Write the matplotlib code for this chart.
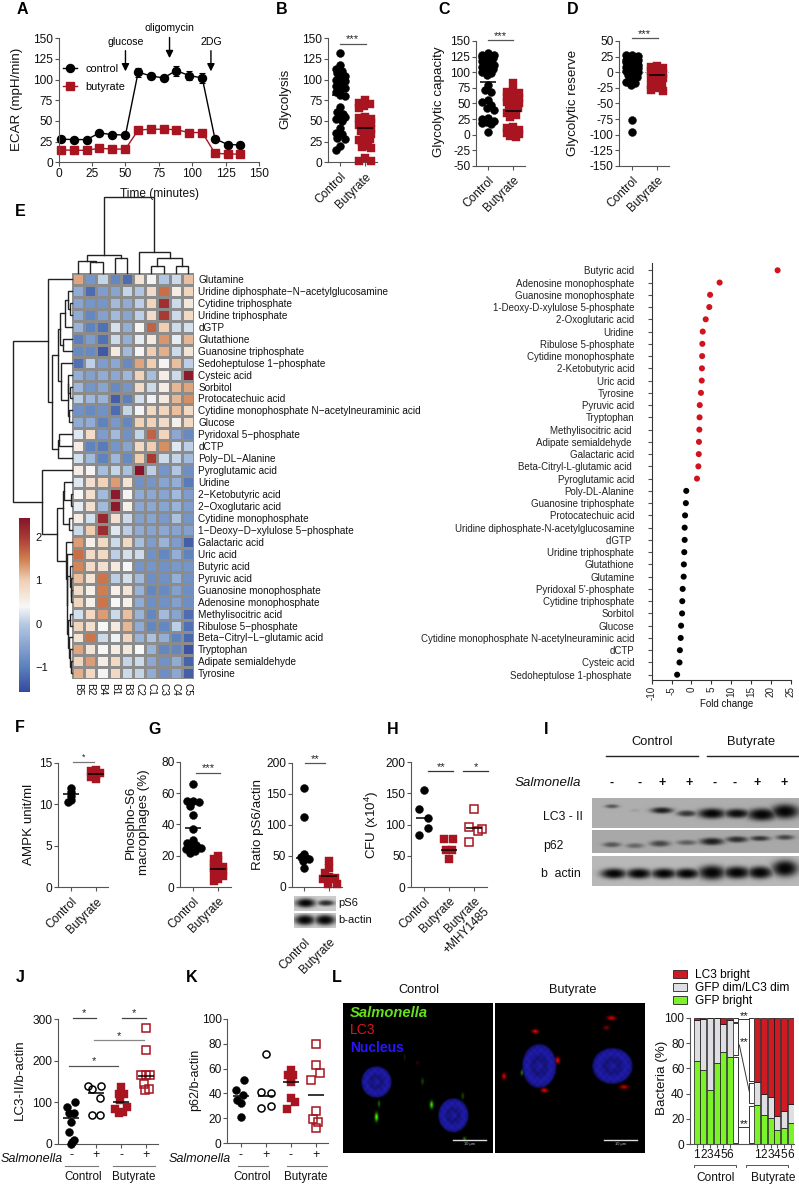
import numpy as np
import matplotlib
matplotlib.use('Agg')
import matplotlib.pyplot as plt
from matplotlib.colors import LinearSegmentedColormap, Normalize
from matplotlib.lines import Line2D
from matplotlib.patches import Patch

plt.rcParams['font.family'] = ['Liberation Sans', 'DejaVu Sans']
plt.rcParams['axes.unicode_minus'] = False
plt.rcParams['mathtext.fontset'] = 'custom'
plt.rcParams['mathtext.rm'] = 'Liberation Sans'
plt.rcParams['mathtext.default'] = 'rm'
W, H = 799, 1185
fig = plt.figure(figsize=(W/100, H/100), dpi=100)
RED = '#a8141f'
AXC = '#555555'
TS = 8.6
LS = 9.6

# ---------- data ----------
time_min = [2, 11.5, 21, 30.5, 40, 50, 59.5, 69, 78.5, 88, 97.5, 107.5, 117, 126.5, 136]
ecar_ctrl = [28, 27.5, 27.5, 35.5, 33.5, 33, 109, 104.5, 102, 111, 105, 102, 28.5, 21.5, 21]
ecar_ctrl_err = [2, 2, 2, 2, 2, 2, 5.5, 3, 2, 6, 6, 5.5, 2, 2, 2]
ecar_but = [15, 14.5, 14.5, 17, 16, 16, 39, 40, 40, 39.5, 36, 36, 11, 10, 10]
ecar_but_err = [2, 2, 2, 2, 2, 2, 2, 2, 2, 2, 2, 2, 2, 2, 2]

glyc_ctrl = [132, 118, 113, 110, 108, 105, 103, 100, 98, 95, 92, 90, 88, 85, 81, 80, 67, 61, 59, 57, 55, 52, 50, 41, 36, 34, 29, 28, 20, 15]
glyc_but = [75, 72, 70, 68, 66, 55, 54, 52, 50, 48, 47, 45, 42, 40, 38, 36, 34, 30, 28, 27, 26, 25, 20, 18, 17, 5, 2, 2]
cap_ctrl = [130, 128, 127, 126, 125, 124, 122, 120, 118, 116, 115, 112, 110, 108, 105, 103, 100, 98, 95, 80, 72, 68, 56, 52, 48, 42, 40, 27, 25, 22, 20, 18, 17, 5]
cap_but = [83, 70, 68, 66, 65, 62, 60, 58, 56, 55, 52, 50, 48, 45, 42, 40, 35, 32, 28, 12, 10, 8, 6, 4, 2, 1, 0, -2, -3]
res_ctrl = [28, 27, 26, 25, 24, 22, 20, 19, 18, 17, 16, 15, 14, 13, 12, 11, 10, 9, 8, 6, 5, 4, 3, 2, 0, -2, -5, -8, -12, -15, -18, -20, -77, -96]
res_but = [10, 8, 6, 5, 4, 2, 1, 0, -1, -2, -3, -5, -6, -8, -10, -12, -15, -17, -18, -20, -22, -25, -28, -30]

heat_rows = ['Glutamine', 'Uridine diphosphate−N−acetylglucosamine', 'Cytidine triphosphate', 'Uridine triphosphate', 'dGTP',
             'Glutathione', 'Guanosine triphosphate', 'Sedoheptulose 1−phosphate', 'Cysteic acid', 'Sorbitol',
             'Protocatechuic acid', 'Cytidine monophosphate N−acetylneuraminic acid', 'Glucose', 'Pyridoxal 5−phosphate', 'dCTP',
             'Poly−DL−Alanine', 'Pyroglutamic acid', 'Uridine', '2−Ketobutyric acid', '2−Oxoglutaric acid',
             'Cytidine monophosphate', '1−Deoxy−D−xylulose 5−phosphate', 'Galactaric acid', 'Uric acid', 'Butyric acid',
             'Pyruvic acid', 'Guanosine monophosphate', 'Adenosine monophosphate', 'Methylisocitric acid', 'Ribulose 5−phosphate',
             'Beta−Citryl−L−glutamic acid', 'Tryptophan', 'Adipate semialdehyde', 'Tyrosine']
heat_cols = ['B5', 'B2', 'B4', 'B1', 'B3', 'C2', 'C1', 'C3', 'C4', 'C5']
heat_vals = [
 [1.25, -0.7, 0.1, -0.9, -1.2, 0.7, 0.45, -0.05, 0.15, 1.1],
 [-0.4, -1.2, -0.6, -0.5, 0.1, -0.05, 0.8, 1.6, 0.55, 0.9],
 [-0.5, -0.7, -0.7, -0.2, -0.4, 0.05, 0.9, 2.1, 0.15, 0.65],
 [-0.4, -0.9, -0.55, -0.2, -0.5, 0.05, 0.8, 2.0, 0.15, 0.85],
 [-0.3, -0.95, -1.15, 0.2, -0.35, 0.45, 1.7, 1.0, 0.15, 0.2],
 [-1.0, -0.6, -1.15, 0.15, -0.35, 0.3, 0.6, 1.35, 0.3, 1.15],
 [-0.85, -0.85, -1.4, 0.6, -0.2, 0.45, 1.0, 1.2, 0.15, 0.7],
 [-1.15, 0.05, -0.6, -0.45, -0.85, 1.25, 1.0, 0.45, 1.1, 0.05],
 [-0.35, -0.55, -0.4, -0.45, -0.25, 0.95, -0.15, 0.55, 0.15, 2.35],
 [-0.25, -0.7, -0.5, -0.85, -0.7, 0.8, 0.15, 0.55, 1.15, 1.25],
 [0.05, -0.25, -0.3, -1.35, -1.0, 0.2, 0.35, 0.6, 1.15, 1.4],
 [-0.75, -0.85, -0.75, -1.2, 0.1, 0.45, 0.85, 0.9, 1.1, 0.85],
 [-0.4, -0.4, -0.95, -0.65, -0.9, 0.95, 0.95, 0.8, 0.5, 0.85],
 [0.25, 0.8, -0.6, -0.2, -0.75, 0.1, 1.7, 0.9, -0.45, -0.85],
 [0.55, -0.95, -1.05, -0.7, -0.5, 0.85, 1.0, 1.4, 0.25, 0.05],
 [0.2, -0.2, -0.95, -0.25, -0.85, 1.0, 2.0, 0.15, 0.1, -0.2],
 [0.55, 0.45, -0.15, 0.1, -0.1, 2.45, 0.05, -0.7, -0.05, -0.8],
 [0.25, 0.75, 0.95, 1.3, 0.7, -0.75, -0.7, -0.5, -0.35, -1.05],
 [0.4, 0.75, -0.2, 2.35, 0.45, -0.4, -0.45, -0.5, -0.2, -0.6],
 [0.3, 0.75, -0.2, 2.35, 0.5, -0.45, -0.45, -0.5, -0.3, -0.6],
 [0.55, 0.2, 2.2, 0.75, 0.15, -0.55, -0.5, -0.65, -0.1, -0.7],
 [0.15, 1.0, 2.15, 0.25, 0.05, -0.4, -0.5, -0.45, -0.5, -0.55],
 [1.3, 0.5, 0.85, 0.15, 0.85, -0.15, -0.6, -0.3, -0.6, -1.35],
 [1.6, 0.8, 0.85, 0.05, 0.2, 0.15, -0.75, -0.9, -0.35, -0.95],
 [1.45, 0.8, 0.75, 0.6, 0.4, -0.7, -0.7, -0.75, -0.65, -0.7],
 [1.1, 0.7, 1.55, 0.05, 0.2, -0.2, -0.8, -0.75, -0.35, -0.75],
 [0.8, 0.5, 1.5, 0.5, 0.7, -0.3, -0.9, -0.85, -0.55, -0.8],
 [0.9, 0.5, 1.55, 0.4, 0.5, -0.4, -0.8, -0.75, -0.55, -0.8],
 [0.2, 0.85, 1.3, 0.15, 1.1, -0.3, -0.9, -0.2, -0.5, -1.2],
 [0.9, 0.75, 0.4, 0.6, 1.15, -0.4, -0.9, -0.9, 0.05, -1.15],
 [0.7, 1.55, 0.15, 0.35, 0.9, -0.3, -0.1, -0.35, -0.95, -1.25],
 [1.25, 0.7, 0.4, 0.55, 0.65, 0.4, -0.3, -0.9, -0.9, -1.45],
 [0.9, 1.3, 0.55, 0.85, 0.1, 0.15, -0.45, -0.75, -0.4, -1.3],
 [1.2, 0.85, 0.45, 0.85, 0.15, 0.1, -0.4, -0.8, -0.45, -1.35],
]
# dendrograms: (child, child, height)
col_tree = (((0, (1, 2, 11), 12), (3, 4, 15), 18), (5, ((6, 7, 7), (8, 9, 7.5), 15), 21), 76)
row_tree_top = (0, (((((1, (2, 3, 2), 3.7), 4, 7), (5, 6, 8.7), 12),
                     (7, ((8, (9, 10, 2.5), 3.7), (11, 12, 3), 4.5), 11.5), 14.5),
                    ((13, 14, 13.5), 15, 14.5), 19.7), 23.7)
row_tree_bot = (16, (((17, (18, 19, 1), 8), (20, 21, 3), 9.5),
                     (22, (23, ((24, (25, (26, 27, 0.8), 1.5), 2.5), ((28, 29, 2.2), (30, (31, (32, 33, 1), 2), 3), 4), 5), 5.5), 6.5), 15), 30)
row_tree = (row_tree_top, row_tree_bot, 59.3)

fold_names = ['Butyric acid', 'Adenosine monophosphate', 'Guanosine monophosphate', '1-Deoxy-D-xylulose 5-phosphate', '2-Oxoglutaric acid',
              'Uridine', 'Ribulose 5-phosphate', 'Cytidine monophosphate', '2-Ketobutyric acid', 'Uric acid', 'Tyrosine', 'Pyruvic acid',
              'Tryptophan', 'Methylisocitric acid ', 'Adipate semialdehyde ', 'Galactaric acid', 'Beta-Citryl-L-glutamic acid ',
              'Pyroglutamic acid', 'Poly-DL-Alanine', 'Guanosine triphosphate', 'Protocatechuic acid',
              'Uridine diphosphate-N-acetylglucosamine', 'dGTP ', 'Uridine triphosphate', 'Glutathione', 'Glutamine',
              "Pyridoxal 5'-phosphate", 'Cytidine triphosphate', 'Sorbitol', 'Glucose',
              'Cytidine monophosphate N-acetylneuraminic acid', 'dCTP', 'Cysteic acid', 'Sedoheptulose 1-phosphate ']
fold_vals = [21.7, 7.1, 4.7, 4.5, 3.6, 2.85, 2.75, 2.7, 2.65, 2.6, 2.4, 2.1, 2.05, 2.0, 1.9, 1.85, 1.75, 1.4,
             -1.3, -1.4, -1.6, -1.7, -1.7, -1.8, -1.9, -1.95, -2.2, -2.3, -2.35, -2.6, -2.7, -2.9, -3.0, -3.6]

ampk_ctrl = [12.0, 11.5, 11.0, 10.5, 10.3]
ampk_but = [14.1, 14.0, 13.8, 13.5, 13.3, 13.0]
ps6_ctrl = [66, 55, 55, 54, 52, 46, 37, 30, 28, 27, 26, 25, 24, 23, 22]
ps6_but = [20, 18, 17, 15, 14, 13, 12, 11, 10, 9, 8, 7, 5, 4]
ratio_ctrl = [160, 113, 52, 48, 46, 44, 42, 30]
ratio_but = [42, 30, 22, 15, 14, 12, 12, 5, 4]

cfu_ctrl = [155, 125, 110, 95, 83]
cfu_ctrl_dx = [0, -0.17, 0.16, 0.16, -0.17]
cfu_but = [77, 77, 60, 60, 45]
cfu_but_dx = [-0.17, 0.16, -0.1, 0.12, 0]
cfu_mhy = [125, 97, 93, 90, 72]
cfu_mhy_dx = [0, -0.17, 0.32, 0.16, -0.17]

lc3_ctrl_m = [100, 89, 75, 73, 53, 29, 9, 3, 0]
lc3_ctrl_m_dx = [0.16, -0.16, 0.12, -0.1, 0, -0.1, 0.12, 0.03, 0]
lc3_ctrl_p = [139, 139, 131, 109, 68, 68]
lc3_ctrl_p_dx = [-0.33, 0.19, -0.17, 0.16, -0.17, 0.16]
lc3_but_m = [136, 120, 120, 105, 84, 89, 73, 77]
lc3_but_m_dx = [0, -0.1, 0.12, -0.04, -0.24, 0.22, -0.08, 0.09]
lc3_but_p = [278, 225, 166, 166, 166, 143, 130, 131]
lc3_but_p_dx = [0, 0, -0.2, 0, 0.16, -0.1, -0.04, 0.12]

p62_ctrl_m = [50.5, 43, 39, 35, 32, 21]
p62_ctrl_m_dx = [0.15, -0.18, 0.11, -0.13, 0, 0]
p62_ctrl_p = [71.6, 41, 40, 28, 30]
p62_ctrl_p_dx = [0, -0.17, 0.2, -0.17, 0.2]
p62_but_m = [59, 55, 55, 52, 49, 36, 33, 27.5]
p62_but_m_dx = [0, -0.1, 0.1, 0, 0, 0, 0.17, -0.16]
p62_but_p = [80, 62.5, 56.4, 50.8, 26, 19.5, 17, 12.5]
p62_but_p_dx = [0, 0, 0.16, -0.17, 0, -0.12, 0.08, 0]

stack_green = [66, 59, 43, 64, 73, 69, 31, 23, 21, 11, 13, 17]
stack_grey = [32, 40, 57, 36, 22, 29, 18, 17, 16, 11, 13, 15]
stack_red = [2, 1, 0, 0, 5, 2, 51, 60, 63, 78, 74, 68]
stack_x = [1, 2, 3, 4, 5, 6, 10.1, 11.1, 12.1, 13.1, 14.1, 15.1]
stack_ticklabels = ['1', '2', '3', '4', '5', '6'] * 2

# ---------- helpers ----------
def axpx(x0, y0, x1, y1):
    a = fig.add_axes([x0/W, 1-y1/H, (x1-x0)/W, (y1-y0)/H])
    a.patch.set_alpha(0)
    a.rect_px = (x0, y0, x1, y1)
    return a

def style(a):
    for s in ('top', 'right'):
        a.spines[s].set_visible(False)
    for s in ('left', 'bottom'):
        a.spines[s].set_color(AXC)
        a.spines[s].set_linewidth(0.8)
    a.tick_params(length=2.6, width=0.8, color=AXC, labelsize=TS, pad=1.5, labelcolor='#111111')

def ftext(x, y, s, **k):
    k.setdefault('ha', 'center'); k.setdefault('va', 'center'); k.setdefault('fontsize', TS); k.setdefault('color', '#111111')
    return fig.text(x/W, 1-y/H, s, **k)

def fline(xs, ys, c='#333333', lw=0.8):
    fig.add_artist(Line2D([x/W for x in xs], [1-y/H for y in ys], color=c, lw=lw))

def ylab(a, s, x, y, fs=LS):
    x0, y0, x1, y1 = a.rect_px
    a.set_ylabel(s, fontsize=fs, color='#111111', va='center', ha='center')
    a.yaxis.set_label_coords((x-x0)/(x1-x0), (y1-y)/(y1-y0))

def xlab(a, s, x, y, fs=TS):
    x0, y0, x1, y1 = a.rect_px
    a.set_xlabel(s, fontsize=fs, color='#111111', va='center', ha='center')
    a.xaxis.set_label_coords((x-x0)/(x1-x0), (y1-y)/(y1-y0))

def catax(sx, rx, ty, by, t0, ylim, yticks, labels=None, n=2):
    a = axpx(sx, ty, rx, by)
    style(a)
    a.set_xlim((sx-t0)/25, (rx-t0)/25)
    a.set_ylim(*ylim)
    a.set_yticks(yticks)
    a.set_xticks(range(n))
    if labels:
        a.set_xticklabels(labels, rotation=45, ha='right', rotation_mode='anchor')
    a.tick_params(axis='x', pad=3.5)
    return a

def swarm(a, vals, cx, marker, color, ms=5.7, gap=0.7, limit=6.0):
    # spread equal values sideways, within +-limit pixels of the category centre
    px = a.rect_px
    yscale = (px[3]-px[1])/(a.get_ylim()[1]-a.get_ylim()[0])
    d = ms*100/72*gap
    placed = []
    xs = []
    n_c = int(limit/1.5)
    cand = [0.0]
    for i in range(1, n_c+1):
        cand += [-1.5*i, 1.5*i]
    for v in vals:
        best, bestd = 0.0, -1
        for off in cand:
            dist = min([np.hypot(off-p, (v-q)*yscale) for p, q in placed] or [1e9])
            if dist >= d:
                best = off
                break
            if dist > bestd:
                best, bestd = off, dist
        placed.append((best, v))
        xs.append(cx+best/25)
    a.plot(xs, vals, ls='none', marker=marker, ms=ms, mfc=color, mec=color, mew=0.3, clip_on=False, zorder=3)

def pts(a, vals, dx, cx, marker, color, ms=5.7, open_=False):
    a.plot([cx+d for d in dx], vals, ls='none', marker=marker, ms=ms-(0.6 if open_ else 0),
           mfc='none' if open_ else color, mec=color, mew=1.1 if open_ else 0.3, clip_on=False, zorder=3)

def mean(a, cx, v, hw=0.32, c='black'):
    a.plot([cx-hw, cx+hw], [v, v], color=c, lw=1.1, zorder=5, clip_on=False, solid_capstyle='butt')

def sig(a, x0, x1, y, s, c='#555555', fs=8, dy=3.2):
    a.plot([x0, x1], [y, y], color=c, lw=0.9, clip_on=False, zorder=4)
    a.annotate(s, ((x0+x1)/2, y), xytext=(0, dy), textcoords='offset points', ha='center', va='center', fontsize=fs, color='#222222', annotation_clip=False)

for s, x, y in [('A', 22, 10), ('B', 282, 10), ('C', 444, 10), ('D', 573, 10), ('E', 20, 212), ('F', 20, 728), ('G', 155, 729),
                ('H', 393, 729), ('I', 546, 729), ('J', 20, 978), ('K', 192, 978), ('L', 337, 978)]:
    ftext(x, y, s, fontsize=11.5, fontweight='bold', color='black')

# ---------- A ----------
a = axpx(58.7, 38.3, 259, 162.3)
style(a)
a.set_xlim(0, 150); a.set_ylim(0, 150)
a.set_xticks(range(0, 151, 25)); a.set_yticks(range(0, 151, 25))
a.errorbar(time_min, ecar_ctrl, yerr=ecar_ctrl_err, color='black', lw=1, marker='o', ms=5.8, capsize=2, capthick=0.8, label='control', clip_on=False)
a.errorbar(time_min, ecar_but, yerr=ecar_but_err, color=RED, lw=1, marker='s', ms=5.6, capsize=2, capthick=0.8, label='butyrate', clip_on=False)
ylab(a, 'ECAR (mpH/min)', 16.7, 99)
xlab(a, 'Time (minutes)', 159, 194)
for s, x, y0, y1, ty in [('glucose', 50, 135, 110, 145), ('oligomycin', 83, 151, 126, 163), ('2DG', 114, 135, 110, 146)]:
    a.annotate('', (x, y1), (x, y0), arrowprops=dict(arrowstyle='-|>', color='black', lw=1, shrinkA=0, shrinkB=0, mutation_scale=11), annotation_clip=False)
    a.text(x, ty, s, ha='center', va='center', fontsize=7.6, clip_on=False)
h = [Line2D([], [], color='black', lw=1, marker='o', ms=5.8), Line2D([], [], color=RED, lw=1, marker='s', ms=5.6)]
a.legend(h, ['control', 'butyrate'], loc='upper left', bbox_to_anchor=(63/W, 1-64/H), bbox_transform=fig.transFigure,
         frameon=False, fontsize=7.8, handlelength=1.3, handletextpad=0.75, labelspacing=0.75, borderpad=0, borderaxespad=0)

# ---------- B C D ----------
lab2 = ['Control', 'Butyrate']
a = catax(328, 377, 38.3, 162.3, 340, (0, 150), range(0, 151, 25), lab2)
swarm(a, glyc_ctrl, 0, 'o', 'black', limit=4.5); swarm(a, glyc_but, 1, 's', RED, limit=6)
mean(a, 0, 81); mean(a, 1, 42)
sig(a, 0, 1.02, 143.5, '***')
ylab(a, 'Glycolysis', 285, 99)

a = catax(476, 525, 41, 166, 488, (-50, 150), range(-50, 151, 25), lab2)
swarm(a, cap_ctrl, 0, 'o', 'black', limit=6); swarm(a, cap_but, 1, 's', RED, limit=6)
mean(a, 0, 85); mean(a, 1, 38)
sig(a, 0, 1, 151, '***')
ylab(a, 'Glycolytic capacity', 439, 102)

a = catax(619, 669, 41, 166, 632, (-150, 50), range(-150, 51, 25), lab2)
a.axhline(0, color='#777777', lw=0.7, ls=':', zorder=1)
swarm(a, res_ctrl, 0, 'o', 'black', limit=6); swarm(a, res_but, 1, 's', RED, limit=6)
mean(a, 0, 5); mean(a, 1, -4)
sig(a, 0, 1.02, 54.7, '***')
ylab(a, 'Glycolytic reserve', 573, 103)

# ---------- E heatmap ----------
cmap = LinearSegmentedColormap.from_list('hm', [
    (0.00, '#344a9e'), (0.142, '#5b80bd'), (0.39, '#b4c9e3'), (0.49, '#f7f7f7'), (0.64, '#f0d0b4'),
    (0.77, '#cf7b4c'), (0.89, '#a83a34'), (1.00, '#85142a')])
norm = Normalize(-1.57, 2.44)
TOP, ROWH, LEFT, COLW = 273, 11.95, 72, 12.2
BOT = TOP + ROWH*len(heat_rows); RIGHT = LEFT + COLW*len(heat_cols)
a = axpx(LEFT, TOP, RIGHT, BOT)
m = a.pcolormesh(np.array(heat_vals), cmap=cmap, norm=norm, edgecolors='#8c8c8c', linewidth=0.9)
a.set_ylim(len(heat_rows), 0); a.set_xlim(0, len(heat_cols))
for s in a.spines.values():
    s.set_visible(False)
a.yaxis.tick_right()
a.set_yticks(np.arange(len(heat_rows))+.5); a.set_yticklabels(heat_rows, fontsize=7.2)
a.set_xticks(np.arange(len(heat_cols))+.5); a.set_xticklabels(heat_cols, fontsize=7.25, rotation=270)
a.tick_params(length=0, pad=3, labelcolor='#111111')

def draw_tree(a, t, vertical):
    if not isinstance(t, tuple):
        return t+.5, 0
    p1, h1 = draw_tree(a, t[0], vertical)
    p2, h2 = draw_tree(a, t[1], vertical)
    hh = t[2]
    if vertical:
        a.plot([p1, p1, p2, p2], [h1, hh, hh, h2], color='#222222', lw=1, clip_on=False, solid_joinstyle='miter')
    else:
        a.plot([h1, hh, hh, h2], [p1, p1, p2, p2], color='#222222', lw=1, clip_on=False, solid_joinstyle='miter')
    return (p1+p2)/2, hh

d = axpx(LEFT, TOP-76, RIGHT, TOP); d.axis('off')
d.set_xlim(0, 10); d.set_ylim(0, 76)
draw_tree(d, col_tree, True)
d = axpx(LEFT-60, TOP, LEFT, BOT); d.axis('off')
d.set_ylim(34, 0); d.set_xlim(60, 0)
draw_tree(d, row_tree, False)

cax = axpx(19, 518, 30, 692)
cb = fig.colorbar(m, cax=cax)
cb.outline.set_visible(False)
cb.set_ticks([-1, 0, 1, 2]); cb.set_ticklabels(['−1', '0', '1', '2'])
cb.ax.tick_params(length=0, pad=4, labelsize=8, labelcolor='#111111')

# fold change
n = len(fold_names)
a = axpx(651.7, 263, 790.7, 680)
a.spines['top'].set_visible(False); a.spines['right'].set_visible(False)
for s in ('left', 'bottom'):
    a.spines[s].set_color('#333333'); a.spines[s].set_linewidth(0.8)
a.set_xlim(-10, 25)
pxrow = 12.25
a.set_ylim(33+(680-674.7)/pxrow, -(270.3-263)/pxrow)
ypos = np.arange(n)
cols = ['#d0141e' if v > 0 else 'black' for v in fold_vals]
a.scatter(fold_vals, ypos, c=cols, s=19, zorder=3, clip_on=False, linewidths=0)
a.set_yticks(ypos); a.set_yticklabels(fold_names, fontsize=7.0)
a.set_xticks(range(-10, 26, 5)); a.set_xticklabels(range(-10, 26, 5), rotation=90, fontsize=7.1)
a.tick_params(axis='y', length=3, width=0.8, color='#555555', pad=9.5, labelcolor='#222222')
a.tick_params(axis='x', length=3, width=0.8, color='#333333', pad=1.5, labelcolor='#222222')
xlab(a, 'Fold change', 727, 704, fs=7)

# ---------- F G H ----------
a = catax(58.3, 108, 762.7, 887.3, 70.7, (0, 15), [0, 5, 10, 15], lab2)
swarm(a, ampk_ctrl, 0, 'o', 'black', gap=0.5, limit=4); swarm(a, ampk_but, 1, 's', RED, gap=0.5, limit=8)
mean(a, 0, 11.2); mean(a, 1, 13.6)
sig(a, 0.08, 0.93, 15.1, '*', c='#777777', fs=6.5, dy=3)
ylab(a, 'AMPK unit/ml', 29, 824)

a = catax(180.3, 230.7, 761.7, 887, 193, (0, 80), [0, 20, 40, 60, 80], lab2)
swarm(a, ps6_ctrl, 0, 'o', 'black', limit=7.5); swarm(a, ps6_but, 1, 's', RED, gap=0.55, limit=5)
mean(a, 0, 37.5); mean(a, 1, 11.7)
sig(a, 0.13, 1.07, 73, '***')
ylab(a, 'Phospho-S6\nmacrophages (%)', 137.5, 822)

a = catax(291.7, 341.7, 762.7, 886.7, 304, (0, 200), [0, 50, 100, 150, 200], lab2)
a.tick_params(axis='x', pad=33)
swarm(a, ratio_ctrl, 0, 'o', 'black', gap=0.45, limit=4.5); swarm(a, ratio_but, 1, 's', RED, gap=0.75, limit=8)
mean(a, 0, 46); mean(a, 1, 18)
sig(a, 0.04, 0.84, 199, '**')
ylab(a, 'Ratio pS6/actin', 258, 824)

a = catax(411, 486.7, 762.3, 887, 423.7, (0, 200), [0, 50, 100, 150, 200], ['Control', 'Butyrate', 'Butyrate\n+MHY1485'], n=3)
pts(a, cfu_ctrl, cfu_ctrl_dx, 0, 'o', 'black')
pts(a, cfu_but, cfu_but_dx, 1, 's', RED)
pts(a, cfu_mhy, cfu_mhy_dx, 2, 's', RED, open_=True)
mean(a, 0, 111); mean(a, 1, 60); mean(a, 2, 94)
sig(a, 0.19, 1.19, 186, '**', c='#333333')
sig(a, 1.56, 2.59, 186, '*', c='#333333')
ylab(a, 'CFU (x10$^{4}$)', 372, 825)

# ---------- blots ----------
def blot(rect, xs, ys, wx, wy, dark, bg):
    x0, y0, x1, y1 = rect
    w = int(round(x1-x0))*2; h_ = int(round(y1-y0))*2
    X, Y = np.meshgrid((np.arange(w)+.5)/2, (np.arange(h_)+.5)/2)
    d = np.zeros_like(X)
    for cx, cy, a_, b_, k in zip(xs, ys, wx, wy, dark):
        d = np.maximum(d, k*np.exp(-(((X-cx)/a_)**2+((Y-cy)/b_)**2)**1.4))
    img = bg*(1-0.97*d)
    ab = axpx(*rect)
    ab.imshow(img, cmap='gray', vmin=0, vmax=1, aspect='auto', interpolation='bilinear')
    ab.axis('off')

lc3_band_x = [20, 43, 70, 95, 120, 145, 170, 193]
lc3_band_y = [9, 13, 13, 16, 16, 16, 17, 14]
lc3_band_wx = [7, 5, 11, 10, 14, 13, 15, 14]
lc3_band_wy = [2, 1.5, 3, 3, 5, 4.5, 6, 7]
lc3_band_d = [.5, .08, .85, .7, 1, .95, 1, 1]
p62_band_x = [20, 43, 68, 95, 120, 145, 168, 193]
p62_band_y = [15, 16, 14, 13, 12, 10, 9, 8]
p62_band_wx = [9, 9, 10, 10, 12, 11, 10, 9]
p62_band_wy = [2.5, 2.5, 3, 2.5, 3.5, 3, 2.5, 2.5]
p62_band_d = [.5, .4, .6, .45, .85, .75, .7, .6]
act_band_x = [22, 47, 72, 95, 120, 145, 168, 193]
act_band_y = [18, 18, 18, 18, 17, 17, 17, 13]
act_band_wx = [13, 13, 13, 13, 14, 14, 13, 13]
act_band_wy = [5, 5, 5, 5, 7, 6, 6, 8]
act_band_d = [1, 1, 1, 1, 1, 1, 1, 1]
blot((592, 798, 799, 828), lc3_band_x, lc3_band_y, lc3_band_wx, lc3_band_wy, lc3_band_d, 0.68)
blot((592, 830, 799, 853), p62_band_x, p62_band_y, p62_band_wx, p62_band_wy, p62_band_d, 0.66)
blot((592, 856, 799, 886), act_band_x, act_band_y, act_band_wx, act_band_wy, act_band_d, 0.72)
blot((294, 895.7, 336, 910.7), [11.7, 32], [7, 7], [10, 8.5], [4.5, 3], [1, .8], 0.8)
blot((294, 913, 336, 928), [11, 31], [7.5, 7.5], [10.5, 10.5], [5, 5], [1, 1], 0.82)
ftext(338.7, 903, 'pS6', ha='left', fontsize=8)
ftext(338.7, 920, 'b-actin', ha='left', fontsize=8)

ftext(651.7, 742, 'Control', fontsize=9.3); ftext(750.7, 742, 'Butyrate', fontsize=9.3)
fline([606, 697.7], [755.7, 755.7], c='#222222', lw=1); fline([707, 799], [755.7, 755.7], c='#222222', lw=1)
ftext(514.7, 783, 'Salmonella', ha='left', fontstyle='italic', fontsize=9.6)
for x, s in zip([305, 388, 455, 538, 615, 675, 740, 822], ['-', '-', '+', '+', '-', '-', '+', '+']):
    ftext(x/3+510, 783, s, fontsize=9, fontweight='bold')
ftext(582.7, 816.7, 'LC3 - II', ha='right', fontsize=8.8)
ftext(543, 845.7, 'p62', ha='left', fontsize=8.8)
ftext(541, 874, 'b  actin', ha='left', fontsize=8.8)

# ---------- J K ----------
a = axpx(58, 1019, 158, 1143.7); style(a)
a.set_xlim((58-71)/25, (158-71)/25); a.set_ylim(0, 300)
a.set_yticks([0, 100, 200, 300]); a.set_xticks(range(4)); a.set_xticklabels(['-', '+', '-', '+'], fontsize=9)
pts(a, lc3_ctrl_m, lc3_ctrl_m_dx, 0, 'o', 'black')
pts(a, lc3_ctrl_p, lc3_ctrl_p_dx, 1, 'o', 'black', open_=True)
pts(a, lc3_but_m, lc3_but_m_dx, 2, 's', RED)
pts(a, lc3_but_p, lc3_but_p_dx, 3, 's', RED, open_=True)
for i, v in enumerate([62, 121, 100, 164]):
    mean(a, i, v)
sig(a, 0.07, 1.0, 303, '*', c='#444444', dy=3.2)
sig(a, 2.05, 2.99, 303, '*', c='#444444', dy=3.2)
sig(a, 0.92, 2.93, 249, '*', c='#888888', dy=3.2)
sig(a, -0.07, 1.87, 188, '*', c='#555555', dy=3.2)
ylab(a, 'LC3-II/b-actin', 20, 1080)

a = axpx(227.3, 1018.7, 327.7, 1143.3); style(a)
a.set_xlim((227.3-240.7)/25, (327.7-240.7)/25); a.set_ylim(0, 100)
a.set_yticks(range(0, 101, 20)); a.set_xticks(range(4)); a.set_xticklabels(['-', '+', '-', '+'], fontsize=9)
pts(a, p62_ctrl_m, p62_ctrl_m_dx, 0, 'o', 'black')
pts(a, p62_ctrl_p, p62_ctrl_p_dx, 1, 'o', 'black', open_=True)
pts(a, p62_but_m, p62_but_m_dx, 2, 's', RED)
pts(a, p62_but_p, p62_but_p_dx, 3, 's', RED, open_=True)
for i, v in enumerate([37.7, 38, 49.5, 38.5]):
    mean(a, i, v)
ylab(a, 'p62/b-actin', 195, 1080, fs=9)

ftext(0.5, 1159, 'Salmonella', ha='left', fontstyle='italic', fontsize=9.1)
ftext(169, 1159, 'Salmonella', ha='left', fontstyle='italic', fontsize=9.1)
for x0, x1, c, cc in [(65, 98, 'Control', 83.5), (113, 155, 'Butyrate', 134), (237.7, 267.7, 'Control', 252), (287, 326.7, 'Butyrate', 306)]:
    fline([x0, x1], [1166, 1166], c='#777777')
    ftext(cc, 1176.7, c, fontsize=8.4)

# ---------- L images ----------
def micro(rect, nuclei, spots, bar_x):
    x0, y0, x1, y1 = rect
    w, h_ = int(x1-x0)*2, int(y1-y0)*2
    X, Y = np.meshgrid((np.arange(w)+.5)/2, (np.arange(h_)+.5)/2)
    img = np.zeros((h_, w, 3))
    for cx, cy, rx, ry in nuclei:
        r = np.sqrt(((X-cx)/rx)**2+((Y-cy)/ry)**2)
        mask = np.clip((1.05-r)/0.12, 0, 1)
        tex = 0.56+0.08*np.cos(r*9)+0.06*np.sin((X-cx)*0.9)*np.cos((Y-cy)*0.8)
        img[..., 2] = np.maximum(img[..., 2], mask*tex)
        img[..., 0] = np.maximum(img[..., 0], mask*tex*0.18)
        img[..., 1] = np.maximum(img[..., 1], mask*tex*0.16)
    for ch, cx, cy, rx, ry, k in spots:
        g = k*np.exp(-((X-cx)/rx)**2-((Y-cy)/ry)**2)
        idx = 0 if ch == 'r' else 1
        img[..., idx] = np.maximum(img[..., idx], g*(0.95 if ch == 'r' else 1))
        if ch == 'g':
            img[..., 0] = np.maximum(img[..., 0], g*0.3)
    ab = axpx(*rect)
    ab.imshow(np.clip(img, 0, 1), aspect='auto', interpolation='bilinear', extent=(0, x1-x0, y1-y0, 0))
    ab.set_xticks([]); ab.set_yticks([])
    for s in ab.spines.values():
        s.set_visible(False)
    ab.plot(bar_x, [137.7, 137.7], color='#dddddd', lw=1)
    ab.text(sum(bar_x)/2, 141.3, '10 µm', color='#cccccc', fontsize=2.8, ha='center', va='center')
    ab.set_xlim(0, x1-x0); ab.set_ylim(y1-y0, 0)

nuclei_ctrl = [(33.3, 79, 15, 15.7), (109.7, 112.3, 15, 17)]
spots_ctrl = [('g', 33.3, 114, 1.6, 4, 1.0), ('g', 88, 101.7, 1.6, 3.5, .9), ('g', 35.7, 100.7, 1.2, 3, .4), ('g', 79, 78.3, 1.2, 3, .3),
              ('g', 119, 93, 1.2, 3, .3), ('g', 120.7, 136, 1.5, 2, .5), ('g', 61.3, 54, 1, 3, .15), ('r', 74, 59.7, 1.5, 1.5, .3)]
nuclei_but = [(44, 63, 17, 22), (116.7, 63, 20, 18)]
spots_but = [('r', 40, 28.3, 3, 1.8, 1), ('r', 115.7, 15, 4, 2, .9), ('r', 110.7, 24.7, 3, 2, .5), ('r', 62.3, 57.3, 2, 3, 1),
             ('r', 9, 73.3, 2, 3, .9), ('r', 49, 87.3, 3, 2, 1), ('r', 128.3, 84, 4, 2, .8), ('g', 26.7, 69.7, 1.2, 2.5, .5)]
micro((342.7, 1002.7, 492.3, 1152.7), nuclei_ctrl, spots_ctrl, [110, 143.3])
micro((495, 1002.7, 644.3, 1152.7), nuclei_but, spots_but, [109.3, 141.7])
ftext(419, 990, 'Control', fontsize=9.2); ftext(573, 990, 'Butyrate', fontsize=9.2)
ftext(350, 1013, 'Salmonella', ha='left', color='#66e01a', fontsize=10.6, fontweight='bold', fontstyle='italic')
ftext(350, 1030, 'LC3', ha='left', color='#e01414', fontsize=10)
ftext(350, 1047.7, 'Nucleus', ha='left', color='#2a14ff', fontsize=10, fontweight='bold')

# ---------- L stacked ----------
a = axpx(690, 1017.7, 794, 1144.3)
style(a)
a.set_xlim(0, 15.6); a.set_ylim(0, 100)
bw = 0.92
a.bar(stack_x, stack_green, bw, color='#7cf22a', edgecolor='#111111', lw=0.5)
a.bar(stack_x, stack_grey, bw, bottom=stack_green, color='#dfdfe3', edgecolor='#111111', lw=0.5)
a.bar(stack_x, stack_red, bw, bottom=np.add(stack_green, stack_grey), color='#cf1a24', edgecolor='#111111', lw=0.5)
a.set_yticks(range(0, 101, 20))
a.set_xticks(stack_x); a.set_xticklabels(stack_ticklabels, fontsize=8.6)
a.tick_params(axis='x', pad=1)
ylab(a, 'Bacteria (%)', 661.7, 1078)
h = [Patch(fc='#cf1a24', ec='#222222', lw=0.6), Patch(fc='#dfdfe3', ec='#222222', lw=0.6), Patch(fc='#7cf22a', ec='#222222', lw=0.6)]
a.legend(h, ['LC3 bright', 'GFP dim/LC3 dim', 'GFP bright'], loc='upper left', bbox_to_anchor=(673.3/W, 1-969/H), bbox_transform=fig.transFigure,
         frameon=False, fontsize=8.6, handlelength=1.18, handleheight=0.72, handletextpad=0.65, labelspacing=0.09, borderpad=0, borderaxespad=0)

def zx(v): return v/3+340
def zy(v): return v/3+950
# brackets around stacked bars
for y0, y1 in [(205, 215), (218, 316), (322, 578)]:
    fline([zx(1183), zx(1195), zx(1195), zx(1183)], [zy(y0), zy(y0), zy(y1), zy(y1)], lw=0.7)
for y0, y1 in [(205, 392), (400, 458), (467, 580)]:
    fline([zx(1240), zx(1228), zx(1228), zx(1240)], [zy(y0), zy(y0), zy(y1), zy(y1)], lw=0.7)
fline([zx(1198), zx(1226)], [zy(207), zy(207)], lw=0.7)
fline([zx(1198), zx(1228)], [zy(285), zy(425)], lw=0.7)
fline([zx(1198), zx(1226)], [zy(530), zy(530)], lw=0.7)
for y_ in (197, 276, 523):
    ftext(zx(1212), zy(y_), '**', fontsize=8)
fline([zx(1062), zx(1062), zx(1188), zx(1188)], [zy(652), zy(645), zy(645), zy(652)], c='#555555', lw=0.7)
fline([zx(1219), zx(1219), zx(1345), zx(1345)], [zy(652), zy(645), zy(645), zy(652)], c='#555555', lw=0.7)
ftext(zx(1127), zy(685), 'Control', fontsize=8.6)
ftext(zx(1300), zy(685), 'Butyrate', fontsize=8.6)

fig.savefig('out.png', dpi=100)
